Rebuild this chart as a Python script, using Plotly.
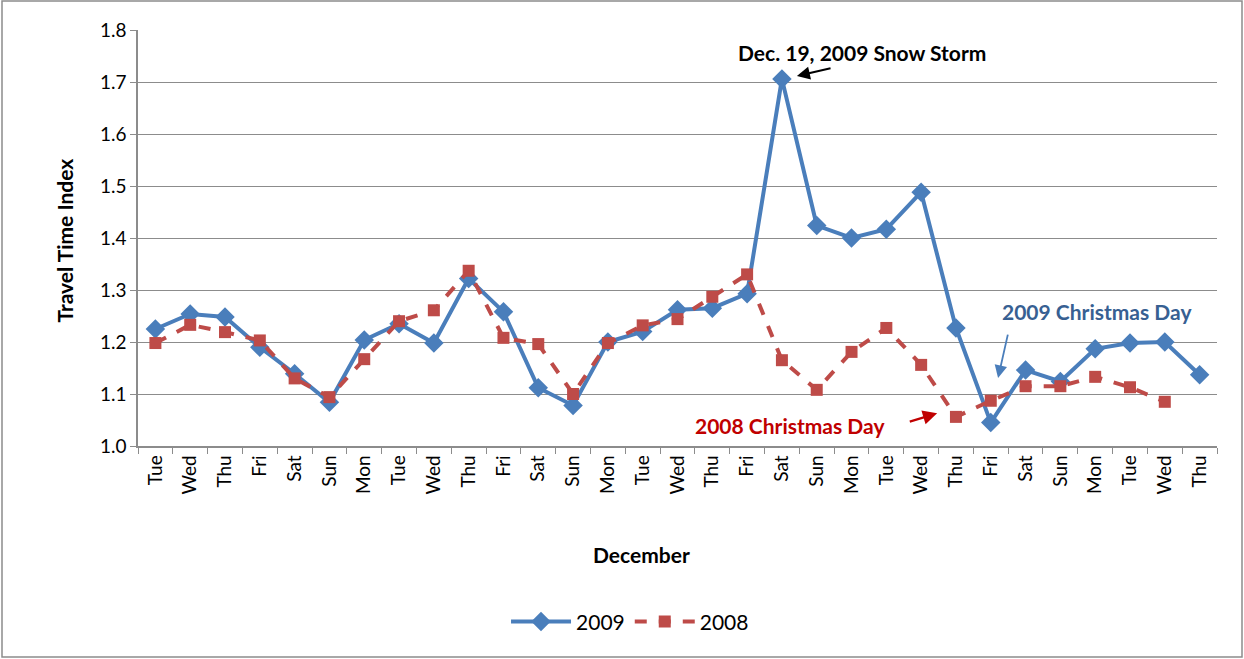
import plotly.graph_objects as go

days = ["Tue", "Wed", "Thu", "Fri", "Sat", "Sun", "Mon", "Tue", "Wed", "Thu", "Fri",
        "Sat", "Sun", "Mon", "Tue", "Wed", "Thu", "Fri", "Sat", "Sun", "Mon", "Tue",
        "Wed", "Thu", "Fri", "Sat", "Sun", "Mon", "Tue", "Wed", "Thu"]
tti_2009 = [1.225, 1.254, 1.248, 1.19, 1.139, 1.084, 1.204, 1.235, 1.198, 1.322, 1.258,
            1.112, 1.078, 1.2, 1.22, 1.262, 1.265, 1.293, 1.706, 1.424, 1.40, 1.417,
            1.488, 1.227, 1.045, 1.146, 1.124, 1.187, 1.198, 1.2, 1.137]
tti_2008 = [1.198, 1.233, 1.219, 1.203, 1.13, 1.094, 1.167, 1.24, 1.261, 1.337, 1.208,
            1.196, 1.1, 1.198, 1.232, 1.244, 1.287, 1.33, 1.165, 1.108, 1.181, 1.227,
            1.156, 1.056, 1.087, 1.115, 1.115, 1.133, 1.113, 1.085]
y_ticks = [1.0, 1.1, 1.2, 1.3, 1.4, 1.5, 1.6, 1.7, 1.8]

FONT = "Lato"
idx = list(range(len(days)))

fig = go.Figure()
fig.add_trace(go.Scatter(
    x=idx, y=tti_2009, name="2009", mode="lines+markers",
    line=dict(color="#4a7ebb", width=4),
    marker=dict(symbol="diamond", size=15, color="#4a7ebb"),
))
fig.add_trace(go.Scatter(
    x=idx[:len(tti_2008)], y=tti_2008, name="2008", mode="lines+markers",
    line=dict(color="#be4b48", width=4, dash="dash"),
    marker=dict(symbol="square", size=12, color="#be4b48"),
))

grid = "#8c8c8c"
fig.update_layout(
    width=1244, height=659,
    margin=dict(l=138, r=27, t=30, b=213),
    paper_bgcolor="white", plot_bgcolor="white",
    font=dict(family=FONT, size=19, color="black"),
    showlegend=True,
    legend=dict(orientation="h", x=0.456, xanchor="center", y=-0.423, yanchor="middle",
                font=dict(size=21), itemwidth=60),
    xaxis=dict(
        range=[-0.5, len(days) - 0.5], tickmode="array", tickvals=idx, ticktext=days,
        tickangle=-90, showgrid=False, ticks="", showline=True, linecolor=grid,
        linewidth=1.5, zeroline=False, tickfont=dict(size=19),
        minor=dict(tickmode="array", tickvals=[i - 0.5 for i in range(len(days) + 1)],
                   ticks="outside", ticklen=6, tickcolor=grid, showgrid=False),
    ),
    yaxis=dict(
        range=[1.0, 1.8], tickmode="array", tickvals=y_ticks,
        ticktext=[f"{v:.1f}" for v in y_ticks], showgrid=True, gridcolor=grid,
        gridwidth=1.2, showline=True, linecolor=grid, linewidth=1.5, ticks="outside",
        ticklen=6, tickcolor=grid, zeroline=False, tickfont=dict(size=19),
    ),
)

annotations = [
    dict(text="<b>Travel Time Index</b>", xref="paper", yref="paper", x=-0.0816, y=0.495,
         textangle=-90, showarrow=False, font=dict(size=21)),
    dict(text="<b>December</b>", xref="paper", yref="paper", x=0.467, y=-0.262,
         yanchor="middle", showarrow=False, font=dict(size=21)),
    dict(text="<b>Dec. 19, 2009 Snow Storm</b>", xref="x", yref="y", x=20.3, y=1.756,
         showarrow=False, font=dict(size=21, color="black")),
    dict(text="", xref="x", yref="y", x=18.43, y=1.7115, axref="x", ayref="y",
         ax=19.44, ay=1.727, showarrow=True, arrowhead=2, arrowsize=1.3, arrowwidth=2,
         arrowcolor="black"),
    dict(text="<b>2009 Christmas Day</b>", xref="x", yref="y", x=27.06, y=1.258,
         showarrow=False, font=dict(size=21, color="#376092")),
    dict(text="", xref="x", yref="y", x=24.21, y=1.131, axref="x", ayref="y",
         ax=24.5, ay=1.217, showarrow=True, arrowhead=2, arrowsize=1.4, arrowwidth=1.8,
         arrowcolor="#4a7ebb"),
    dict(text="<b>2008 Christmas Day</b>", xref="x", yref="y", x=18.24, y=1.040,
         showarrow=False, font=dict(size=21, color="#c00000")),
    dict(text="", xref="x", yref="y", x=22.46, y=1.063, axref="x", ayref="y",
         ax=21.63, ay=1.046, showarrow=True, arrowhead=2, arrowsize=1.3, arrowwidth=2.2,
         arrowcolor="#c00000"),
]
fig.update_layout(annotations=annotations)

fig.add_shape(type="rect", xref="paper", yref="paper",
              x0=(2 - 138) / 1079, x1=(1242 - 138) / 1079,
              y0=(446 - 657) / 416, y1=(446 - 1) / 416,
              line=dict(color="#8c8c8c", width=1.5), fillcolor="rgba(0,0,0,0)", layer="below")

fig.write_html("out.html", config={"displayModeBar": False},
               post_script="document.body.style.margin='0';document.body.style.overflow='hidden';")
